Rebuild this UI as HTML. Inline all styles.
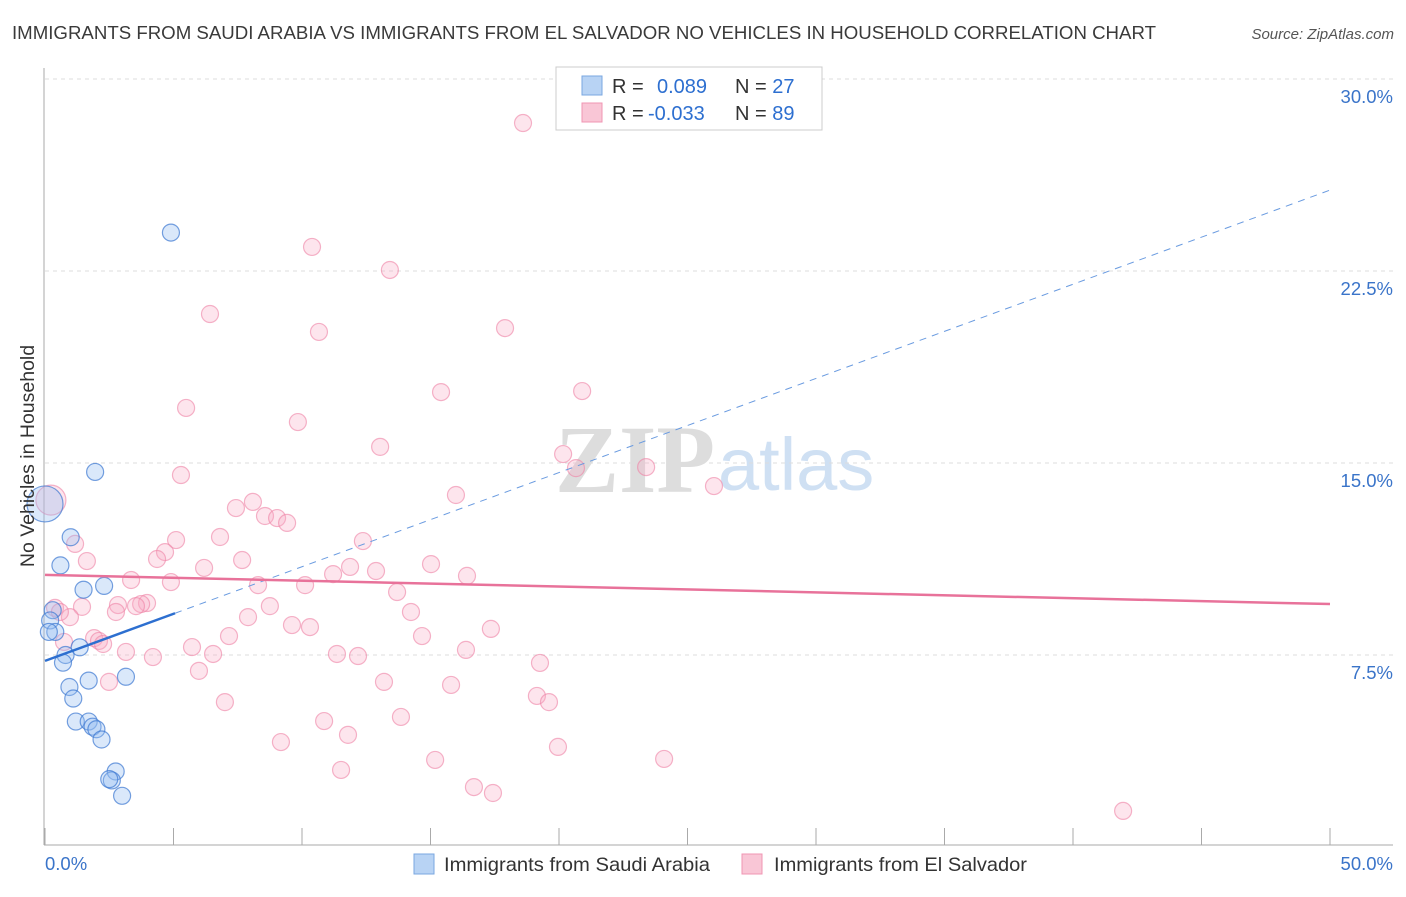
<!DOCTYPE html>
<html><head><meta charset="utf-8"><style>
body{margin:0;background:#fff;font-family:"Liberation Sans",sans-serif}
</style></head><body>
<svg width="1406" height="892" xmlns="http://www.w3.org/2000/svg" id="chart" font-family="Liberation Sans, sans-serif">
<text x="12" y="39" font-size="18" fill="#3a3a3a" textLength="1144" lengthAdjust="spacingAndGlyphs">IMMIGRANTS FROM SAUDI ARABIA VS IMMIGRANTS FROM EL SALVADOR NO VEHICLES IN HOUSEHOLD CORRELATION CHART</text>
<text x="1394" y="39" font-size="15" fill="#555" font-style="italic" text-anchor="end">Source: ZipAtlas.com</text>
<g>
<text x="555" y="492" font-size="96" fill="#ddd" font-family="Liberation Serif, serif" font-weight="bold">ZIP</text>
<text x="718" y="490" font-size="74" fill="#cfe0f3">atlas</text>
</g>
<g id="grid"></g>
<g id="axes"></g>
<g id="marks"></g>
<text transform="translate(34,456) rotate(-90)" font-size="19.5" fill="#333" text-anchor="middle">No Vehicles in Household</text>
<g>
<rect x="556" y="67" width="266" height="63" fill="#fff" stroke="#ccc"/>
<rect x="582" y="76" width="20" height="19" fill="#b8d3f4" stroke="#7aa7e0"/>
<rect x="582" y="103" width="20" height="19" fill="#f9c6d6" stroke="#f095b3"/>
<text x="612" y="93" font-size="20" fill="#333">R = </text>
<text x="657" y="93" font-size="20" fill="#2d6fd0">0.089</text>
<text x="735" y="93" font-size="20" fill="#333">N = <tspan fill="#2d6fd0">27</tspan></text>
<text x="612" y="120" font-size="20" fill="#333">R = </text>
<text x="648" y="120" font-size="20" fill="#2d6fd0">-0.033</text>
<text x="735" y="120" font-size="20" fill="#333">N = <tspan fill="#2d6fd0">89</tspan></text>
</g>
<g>
<rect x="414" y="854" width="20" height="20" fill="#b8d3f4" stroke="#7aa7e0"/>
<text x="444" y="871" font-size="19.5" fill="#333" textLength="266" lengthAdjust="spacingAndGlyphs">Immigrants from Saudi Arabia</text>
<rect x="742" y="854" width="20" height="20" fill="#f9c6d6" stroke="#f095b3"/>
<text x="774" y="871" font-size="19.5" fill="#333" textLength="253" lengthAdjust="spacingAndGlyphs">Immigrants from El Salvador</text>
</g>
</svg>
<script>
const yTicks=[7.5,15,22.5,30];
const yTickLabels=["7.5%","15.0%","22.5%","30.0%"];
const xTicks=[0,5,10,15,20,25,30,35,40,45,50];
const xEndLabels=["0.0%","50.0%"];
const saudiX=[4.9,1.95,0,1.0,0.6,1.5,2.3,0.3,0.2,0.4,1.35,0.8,0.7,3.15,1.7,0.95,1.1,1.2,1.7,1.85,2.0,2.2,2.75,2.6,2.5,3.0,0.15];
const saudiY=[24.0,14.65,13.4,12.1,11.0,10.05,10.2,9.25,8.85,8.4,7.8,7.5,7.2,6.65,6.5,6.25,5.8,4.9,4.9,4.7,4.6,4.2,2.95,2.6,2.65,2.0,8.4];
const elsX=[18.6,10.39,13.42,6.42,17.9,10.66,20.9,15.41,5.49,9.84,13.04,20.16,20.66,23.39,5.29,26.03,15.99,0.23,8.09,7.43,8.56,9.03,9.42,6.81,5.1,12.37,1.17,4.67,4.36,1.63,7.67,15.02,11.87,12.88,6.19,16.42,11.21,3.35,4.9,8.29,10.12,13.7,1.44,3.97,2.84,0.39,3.74,3.54,2.76,14.24,8.75,0.97,7.9,9.61,10.31,17.35,7.16,14.67,1.91,2.1,2.26,5.72,3.15,16.38,6.54,4.2,11.36,12.18,19.26,5.99,2.49,13.19,15.8,19.14,19.61,7.0,13.85,10.86,11.79,9.18,19.96,15.18,24.09,11.52,16.69,17.43,41.95,0.74,0.58];
const elsY=[28.28,23.44,22.54,20.82,20.27,20.12,17.81,17.77,17.15,16.6,15.63,15.35,14.8,14.84,14.53,14.1,13.75,13.55,13.48,13.24,12.93,12.85,12.66,12.11,11.99,11.95,11.84,11.52,11.25,11.17,11.21,11.05,10.94,10.78,10.9,10.59,10.66,10.43,10.35,10.23,10.23,9.96,9.38,9.53,9.45,9.34,9.49,9.41,9.18,9.18,9.41,8.98,8.98,8.67,8.59,8.52,8.24,8.24,8.16,8.05,7.93,7.81,7.62,7.7,7.54,7.42,7.54,7.46,7.19,6.88,6.45,6.45,6.33,5.9,5.66,5.66,5.08,4.92,4.38,4.1,3.91,3.4,3.44,3.01,2.34,2.11,1.41,8.01,9.18];
const saudiTrend=[7.27,25.66];
const elsTrend=[10.63,9.49];
const NS="http://www.w3.org/2000/svg";
const X=v=>45+v*25.7, Y=v=>847-v*25.6;
function mk(tag,attrs,parent){const e=document.createElementNS(NS,tag);for(const k in attrs)e.setAttribute(k,attrs[k]);document.getElementById(parent).appendChild(e);return e;}
yTicks.forEach((t,i)=>{
 const g=mk('line',{x1:45,x2:1393,y1:Y(t),y2:Y(t),stroke:'#ddd','stroke-dasharray':'4 4'},'grid');
 
 
 const l=mk('text',{x:1393,y:Y(t)+24,'font-size':18.5,fill:'#3a74c9','text-anchor':'end'},'axes');
 l.textContent=yTickLabels[i];
 
 
});
const ax=mk('line',{x1:44,x2:44,y1:68,y2:845,stroke:'#aaa'},'axes');


const bx=mk('line',{x1:44,x2:1393,y1:845,y2:845,stroke:'#aaa'},'axes');


xTicks.forEach(t=>{
 const k=mk('line',{x1:X(t),x2:X(t),y1:828,y2:845,stroke:'#aaa'},'axes');
 
 
});
[[0,'start',45],[50,'end',1393]].forEach((d,i)=>{
 const l=mk('text',{x:d[2],y:870,'font-size':18.5,fill:'#3a74c9','text-anchor':d[1]},'axes');
 l.textContent=xEndLabels[i];
 
 
});
elsX.forEach((x,i)=>{
 const big=i===17;
 const c=mk('circle',{cx:X(x),cy:Y(elsY[i]),r:big?15:8.5,fill:'rgba(247,170,195,0.3)',stroke:'rgba(238,130,165,0.6)','stroke-width':1.2},'marks');
 
 
});
saudiX.forEach((x,i)=>{
 const big=i===2;
 const c=mk('circle',{cx:X(x),cy:Y(saudiY[i]),r:big?18:8.5,fill:'rgba(150,190,240,0.35)',stroke:'rgba(60,120,210,0.7)','stroke-width':1.2},'marks');
 
 
});
const sAt=v=>saudiTrend[0]+(saudiTrend[1]-saudiTrend[0])*v/50;
const t1=mk('line',{x1:X(0),y1:Y(sAt(0)),x2:X(5.06),y2:Y(sAt(5.06)),stroke:'#2d6fd0','stroke-width':2.5},'marks');


const t2=mk('line',{x1:X(5.06),y1:Y(sAt(5.06)),x2:X(50),y2:Y(sAt(50)),stroke:'#6a9be0','stroke-width':1,'stroke-dasharray':'7 6'},'marks');


const t3=mk('line',{x1:X(0),y1:Y(elsTrend[0]),x2:X(50),y2:Y(elsTrend[1]),stroke:'#e8729a','stroke-width':2.5},'marks');


</script>
</body></html>
